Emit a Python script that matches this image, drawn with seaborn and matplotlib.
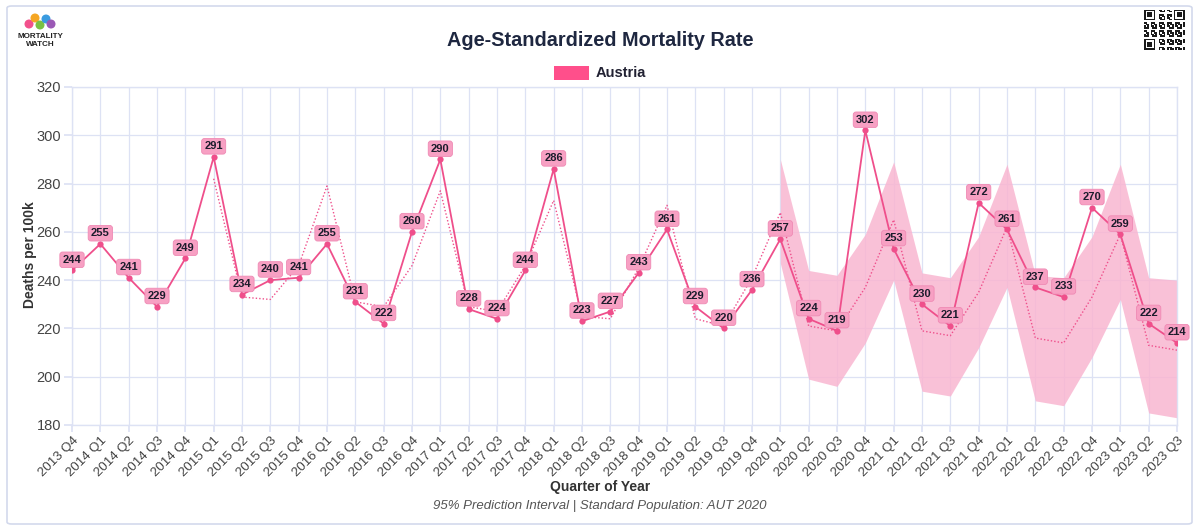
import numpy as np
import pandas as pd
import matplotlib.pyplot as plt
import seaborn as sns
from matplotlib.patches import Patch, FancyBboxPatch

# quarters shown on the x axis
quarters = [
    "2013 Q4",
    "2014 Q1", "2014 Q2", "2014 Q3", "2014 Q4",
    "2015 Q1", "2015 Q2", "2015 Q3", "2015 Q4",
    "2016 Q1", "2016 Q2", "2016 Q3", "2016 Q4",
    "2017 Q1", "2017 Q2", "2017 Q3", "2017 Q4",
    "2018 Q1", "2018 Q2", "2018 Q3", "2018 Q4",
    "2019 Q1", "2019 Q2", "2019 Q3", "2019 Q4",
    "2020 Q1", "2020 Q2", "2020 Q3", "2020 Q4",
    "2021 Q1", "2021 Q2", "2021 Q3", "2021 Q4",
    "2022 Q1", "2022 Q2", "2022 Q3", "2022 Q4",
    "2023 Q1", "2023 Q2", "2023 Q3",
]

# age-standardized mortality rate, deaths per 100k
asmr = [244, 255, 241, 229, 249, 291, 234, 240, 241, 255, 231, 222, 260,
        290, 228, 224, 244, 286, 223, 227, 243, 261, 229, 220, 236, 257,
        224, 219, 302, 253, 230, 221, 272, 261, 237, 233, 270, 259, 222, 214]

# expected baseline (dotted), starts at 2015 Q1
baseline_start = "2015 Q1"
baseline = [282, 233, 232, 246, 279, 231, 229, 246, 277, 229, 227, 246,
            273, 225, 224, 245, 271, 224, 221, 241, 268, 221, 219, 237,
            265, 219, 217, 235, 262, 216, 214, 233, 259, 213, 211]

# 95% prediction interval, starts at 2020 Q1
pi_start = "2020 Q1"
pi_upper = [290, 244, 242, 259, 289, 243, 241, 258, 288, 242, 241, 258, 288, 241, 240]
pi_lower = [247, 199, 196, 214, 240, 194, 192, 212, 237, 190, 188, 208, 232, 185, 183]

pink = "#ef4f8b"
band = "#f9b6d1"
label_bg = "#f7a0c3"
grid_c = "#dde2f4"
dark = "#1e2740"

sns.set_theme(style="whitegrid")
plt.rcParams['font.family'] = ['Liberation Sans', 'DejaVu Sans']

df = pd.DataFrame({"quarter": quarters, "asmr": asmr})
df["idx"] = np.arange(len(df))
b0 = quarters.index(baseline_start)
df["baseline"] = [np.nan] * b0 + baseline
p0 = quarters.index(pi_start)
pi_x = df["idx"].values[p0:]

fig = plt.figure(figsize=(12, 5.3), dpi=100)
W, H = 1200, 530
ax = fig.add_axes([72 / W, 1 - 425 / H, (1177 - 72) / W, (425 - 87) / H])

# prediction band
ax.fill_between(pi_x, pi_lower, pi_upper, color=band, alpha=0.85, lw=0, zorder=1)

# baseline (dotted) and actual values
sns.lineplot(data=df, x="idx", y="baseline", ax=ax, color=pink, lw=1.0,
             linestyle=(0, (1, 1.5)), zorder=3)
sns.lineplot(data=df, x="idx", y="asmr", ax=ax, color=pink, lw=1.3,
             marker="o", markersize=4.5, markeredgewidth=0, zorder=4)

# value labels
for i, v in zip(df["idx"], df["asmr"]):
    ax.annotate(str(v), (i, v), xytext=(0, 7.7), textcoords="offset points",
                ha="center", va="center", fontsize=8, fontweight="bold",
                color="#1c1c2c", zorder=6,
                bbox=dict(boxstyle="round,pad=0.25,rounding_size=0.25",
                          fc=label_bg, ec="#ef8ab4", lw=0.6))

ax.set_xlim(0, len(quarters) - 1)
ax.set_ylim(180, 320)
ax.set_yticks(range(180, 321, 20))
ax.set_xticks(df["idx"])
ax.set_xticklabels(quarters, rotation=45, ha="right", rotation_mode="anchor")
ax.tick_params(axis="x", labelsize=9.5, colors="#444444", length=5, color=grid_c, pad=2)
ax.tick_params(axis="y", labelsize=10.5, colors="#444444", length=6, color=grid_c, pad=2)
ax.tick_params(axis="both", bottom=True, left=True)
ax.grid(True, color=grid_c, lw=0.9)
ax.set_xlabel("")
ax.set_ylabel("")
for s in ax.spines.values():
    s.set_color(grid_c)
    s.set_linewidth(1)

# texts
fig.text(0.5, 1 - 40 / H, "Age-Standardized Mortality Rate", ha="center", va="center",
         fontsize=14.3, fontweight="bold", color=dark)
fig.text(30 / W, 1 - 255 / H, "Deaths per 100k", rotation=90, ha="center", va="center",
         fontsize=10, fontweight="bold", color="#333333")
fig.text(0.5, 1 - 487 / H, "Quarter of Year", ha="center", va="center",
         fontsize=10, fontweight="bold", color="#333333")
fig.text(0.5, 1 - 506 / H, "95% Prediction Interval | Standard Population: AUT 2020",
         ha="center", va="center", fontsize=9.5, style="italic", color="#555555")

# legend
fig.legend(handles=[Patch(facecolor="#ff4f8b", edgecolor="none", label="Austria")],
           loc="center", bbox_to_anchor=(0.5, 1 - 73 / H), frameon=False,
           prop={"size": 10.5, "weight": "bold"}, handlelength=2.4, handleheight=1.1,
           handletextpad=0.5, labelcolor="#222233")

# outer frame
fig.patches.append(FancyBboxPatch((7 / W, 6 / H), 1185 / W, 518 / H,
                                  boxstyle="round,pad=0,rounding_size=0.004",
                                  transform=fig.transFigure, fill=False,
                                  ec="#d3d9ec", lw=1.2))

# logo
logo_x = [29, 35, 40, 46, 51]
logo_y = [24, 18, 25, 19, 24]
logo_c = ["#f2508c", "#f5a623", "#7ac143", "#3a9be0", "#9b59b6"]
logo = fig.add_axes([0, 0, 1, 1], zorder=-1)
logo.set_xlim(0, W)
logo.set_ylim(H, 0)
logo.axis("off")
logo.plot(logo_x, logo_y, color="#cccccc", lw=1.5)
logo.scatter(logo_x, logo_y, c=logo_c, s=30, zorder=3)
logo.text(40, 37, "MORTALITY", ha="center", va="center", fontsize=5.8,
          fontweight="bold", color="#222222")
logo.text(40, 45, "WATCH", ha="center", va="center", fontsize=5.8,
          fontweight="bold", color="#222222")

# qr code (decorative)
n = 25
ii, jj = np.meshgrid(np.arange(n), np.arange(n), indexing="ij")
qr = (((ii * 7 + jj * 3 + ii * jj) % 5) < 3).astype(float)
for r0, c0 in [(0, 0), (0, n - 7), (n - 7, 0)]:
    qr[max(r0 - 1, 0):r0 + 8, max(c0 - 1, 0):c0 + 8] = 0
    qr[r0:r0 + 7, c0:c0 + 7] = 1
    qr[r0 + 1:r0 + 6, c0 + 1:c0 + 6] = 0
    qr[r0 + 2:r0 + 5, c0 + 2:c0 + 5] = 1
qax = fig.add_axes([1144 / W, 1 - 51 / H, 41 / W, 42 / H])
qax.imshow(qr, cmap="Greys", interpolation="nearest", vmin=0, vmax=1.1)
qax.axis("off")

fig.savefig("out.png", dpi=100)
